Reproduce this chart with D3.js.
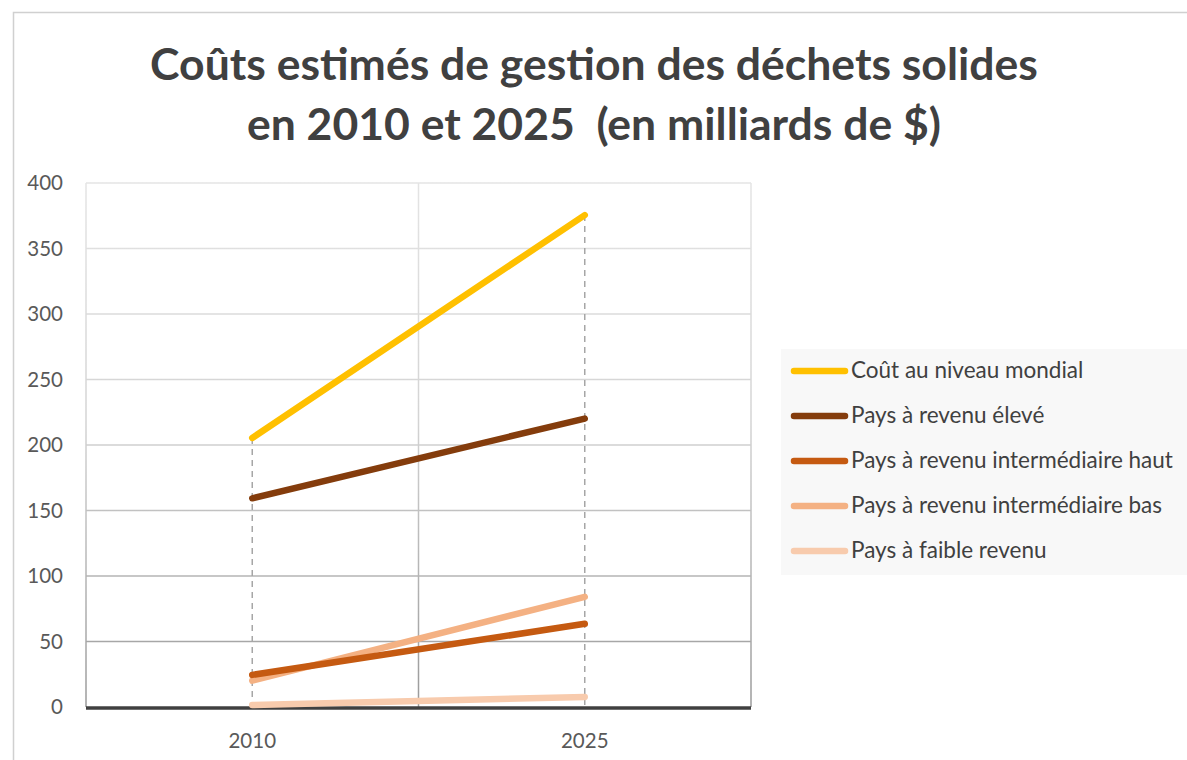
<!DOCTYPE html>
<html>
<head>
<meta charset="utf-8">
<script src="https://cdn.jsdelivr.net/npm/d3@7"></script>
<style>
  body { margin: 0; background: #fff; }
  text { font-family: Lato, "Open Sans", sans-serif; }
</style>
</head>
<body>
<div id="chart"></div>
<script>
// Chart Data
const years = ["2010", "2025"];
const seriesNames = ["Coût au niveau mondial", "Pays à revenu élevé", "Pays à revenu intermédiaire haut", "Pays à revenu intermédiaire bas", "Pays à faible revenu"];
const globalCost = [205.4, 375.5];
const highIncome = [159.3, 220.2];
const upperMiddle = [24.5, 63.5];
const lowerMiddle = [20.1, 84.1];
const lowIncome = [1.5, 7.7];
const colors = ["#FFC000", "#843C0C", "#C55A11", "#F4B183", "#F8CBAD"];
const yTicks = [0, 50, 100, 150, 200, 250, 300, 350, 400];
const titleLines = ["Coûts estimés de gestion des déchets solides", "en 2010 et 2025  (en milliards de $)"];

const series = [globalCost, highIncome, upperMiddle, lowerMiddle, lowIncome];

// Dimensions For SVG Element
let w = 1187, h = 760;
let svg = d3.select("#chart").append("svg").attr("width", w).attr("height", h);

// Scale A Text's Font So It Reaches A Target Width
function fitFont(sel, base, target) {
  sel.attr("font-size", base);
  let len = sel.node().getComputedTextLength();
  sel.attr("font-size", base * target / len);
}

// Outer Chart Border
svg.append("path").attr("d", "M13.5,760 V12.5 H1187").attr("fill", "none").attr("stroke", "#d0d0d0").attr("stroke-width", 1.5);

// Title
let title = svg.append("g");
titleLines.forEach((t, i) => {
  title.append("text").attr("x", 594).attr("y", 80 + i * 60).attr("text-anchor", "middle")
    .attr("font-weight", "bold").attr("fill", "#404040")
    .style("white-space", "pre").text(t);
});
let tSize = 40;
title.selectAll("text").attr("font-size", tSize);
tSize = tSize * 888 / title.select("text").node().getComputedTextLength();
title.selectAll("text").attr("font-size", tSize);

// Plot Area Bounds
let pLeft = 86, pRight = 751, pTop = 183, pBottom = 707;
let x = d3.scaleBand().domain(years).range([pLeft, pRight]);
let y = d3.scaleLinear().domain([0, 400]).range([pBottom, pTop]);

// Gridline Gradient (Light Top, Darker Bottom)
let defs = svg.append("defs");
let grad = defs.append("linearGradient").attr("id", "gridGrad").attr("gradientUnits", "userSpaceOnUse")
  .attr("x1", 0).attr("x2", 0).attr("y1", pTop).attr("y2", pBottom);
grad.append("stop").attr("offset", "0%").attr("stop-color", "#e4e4e4");
grad.append("stop").attr("offset", "45%").attr("stop-color", "#d4d4d4");
grad.append("stop").attr("offset", "100%").attr("stop-color", "#9a9a9a");

// Horizontal Gridlines
svg.append("g").selectAll("line").data(yTicks.filter(d => d > 0)).enter().append("line")
  .attr("x1", pLeft).attr("x2", pRight).attr("y1", d => y(d)).attr("y2", d => y(d))
  .attr("stroke", "url(#gridGrad)").attr("stroke-width", 1.5);

// Vertical Gridlines (Category Boundaries)
let bounds = [pLeft, pLeft + x.bandwidth(), pRight];
svg.append("g").selectAll("line").data(bounds).enter().append("line")
  .attr("x1", d => d).attr("x2", d => d).attr("y1", pTop).attr("y2", pBottom)
  .attr("stroke", "url(#gridGrad)").attr("stroke-width", 1.5);

let labelSize = 20.5;

// Y Axis Labels
svg.append("g").selectAll("text").data(yTicks).enter().append("text")
  .attr("x", 63).attr("y", d => y(d) + 7).attr("text-anchor", "end")
  .attr("font-size", labelSize).attr("fill", "#595959").text(d => d);

// X Axis Labels
svg.append("g").selectAll("text").data(years).enter().append("text")
  .attr("x", d => x(d) + x.bandwidth() / 2).attr("y", 748).attr("text-anchor", "middle")
  .attr("font-size", labelSize).attr("fill", "#595959").text(d => d);

// Drop Lines
svg.append("g").selectAll("line").data(years).enter().append("line")
  .attr("x1", d => x(d) + x.bandwidth() / 2).attr("x2", d => x(d) + x.bandwidth() / 2)
  .attr("y1", (d, i) => y(d3.max(series, s => s[i]))).attr("y2", pBottom)
  .attr("stroke", "#a6a6a6").attr("stroke-width", 1.5).attr("stroke-dasharray", "6,5");

// Base Axis Line
svg.append("line").attr("x1", pLeft).attr("x2", pRight).attr("y1", pBottom + 1).attr("y2", pBottom + 1)
  .attr("stroke", "#404040").attr("stroke-width", 3.5);

// Series Lines (Drawn Bottom To Top)
let line = d3.line().x((d, i) => x(years[i]) + x.bandwidth() / 2).y(d => y(d));
svg.append("g").selectAll("path").data(series.map((s, i) => ({ s, i })).reverse()).enter().append("path")
  .attr("d", d => line(d.s)).attr("fill", "none").attr("stroke", d => colors[d.i])
  .attr("stroke-width", 6.5).attr("stroke-linecap", "round");

// Legend
let legend = svg.append("g");
legend.append("rect").attr("x", 781).attr("y", 349).attr("width", 406).attr("height", 226).attr("fill", "#f8f8f8");
let lp = svg.append("text").text(seriesNames[2]);
fitFont(lp, 19, 322);
let legendSize = +lp.attr("font-size");
lp.remove();
seriesNames.forEach((name, i) => {
  let ly = 371 + i * 45;
  legend.append("line").attr("x1", 794).attr("x2", 845).attr("y1", ly).attr("y2", ly)
    .attr("stroke", colors[i]).attr("stroke-width", 6.5).attr("stroke-linecap", "round");
  legend.append("text").attr("x", 851).attr("y", ly + 7).attr("font-size", legendSize)
    .attr("fill", "#404040").text(name);
});
</script>
</body>
</html>
